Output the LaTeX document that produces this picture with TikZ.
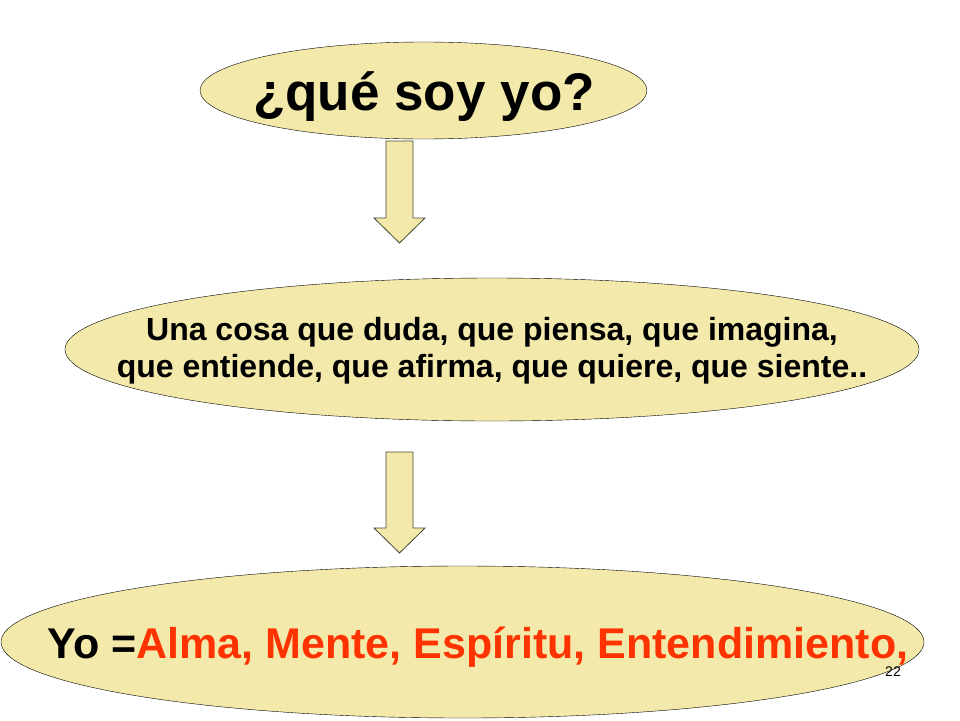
\documentclass[tikz,border=0pt]{standalone}
\usepackage{fontspec}
\setmainfont{Liberation Sans}
\usetikzlibrary{shapes.geometric}
\definecolor{pale}{HTML}{F3E9AA}
\definecolor{hot}{HTML}{FF3300}
\tikzstyle{bubble} = [ellipse, draw=black, fill=pale, inner sep=0pt]
\tikzstyle{words} = [inner sep=0pt, align=center, font=\bfseries]
\tikzstyle{blockarrow} = [draw=black!70!pale, fill=pale, line width=0.8pt, line join=miter]

\begin{document}
\begin{tikzpicture}[x=1pt, y=-1pt]
\useasboundingbox (0,0) rectangle (960,720);
\node (Q) [bubble, minimum width=447pt, minimum height=97pt] at (423.5,90.5) {};
\node (Cosa) [bubble, minimum width=854pt, minimum height=143pt] at (492,349.5) {};
\node (Yo) [bubble, minimum width=923pt, minimum height=152pt] at (462.5,642) {};

\node (Qtext) [words, anchor=base, font=\bfseries\fontsize{53}{60}\selectfont] at (424,110) {¿qué soy yo?};
\node (Cosatext) [words, font=\bfseries\fontsize{32}{37}\selectfont] at (492,351)
  {Una cosa que duda, que piensa, que imagina,\\que entiende, que afirma, que quiere, que siente..};
\node (Yotext) [words, anchor=base, font=\bfseries\fontsize{43}{48}\selectfont] at (478,658)
  {Yo =\textcolor{hot}{Alma, Mente, Espíritu, Entendimiento,}};
\node (Num) at (893,672) {\fontsize{14}{16}\selectfont 22};

\draw [blockarrow] (386,141) -- (413,141) -- (413,218) -- (425,218) -- (399.5,243) -- (374,218) -- (386,218) -- cycle;
\draw [blockarrow] (386,452) -- (413,452) -- (413,528) -- (425,528) -- (399.5,553) -- (374,528) -- (386,528) -- cycle;
\end{tikzpicture}
\end{document}
